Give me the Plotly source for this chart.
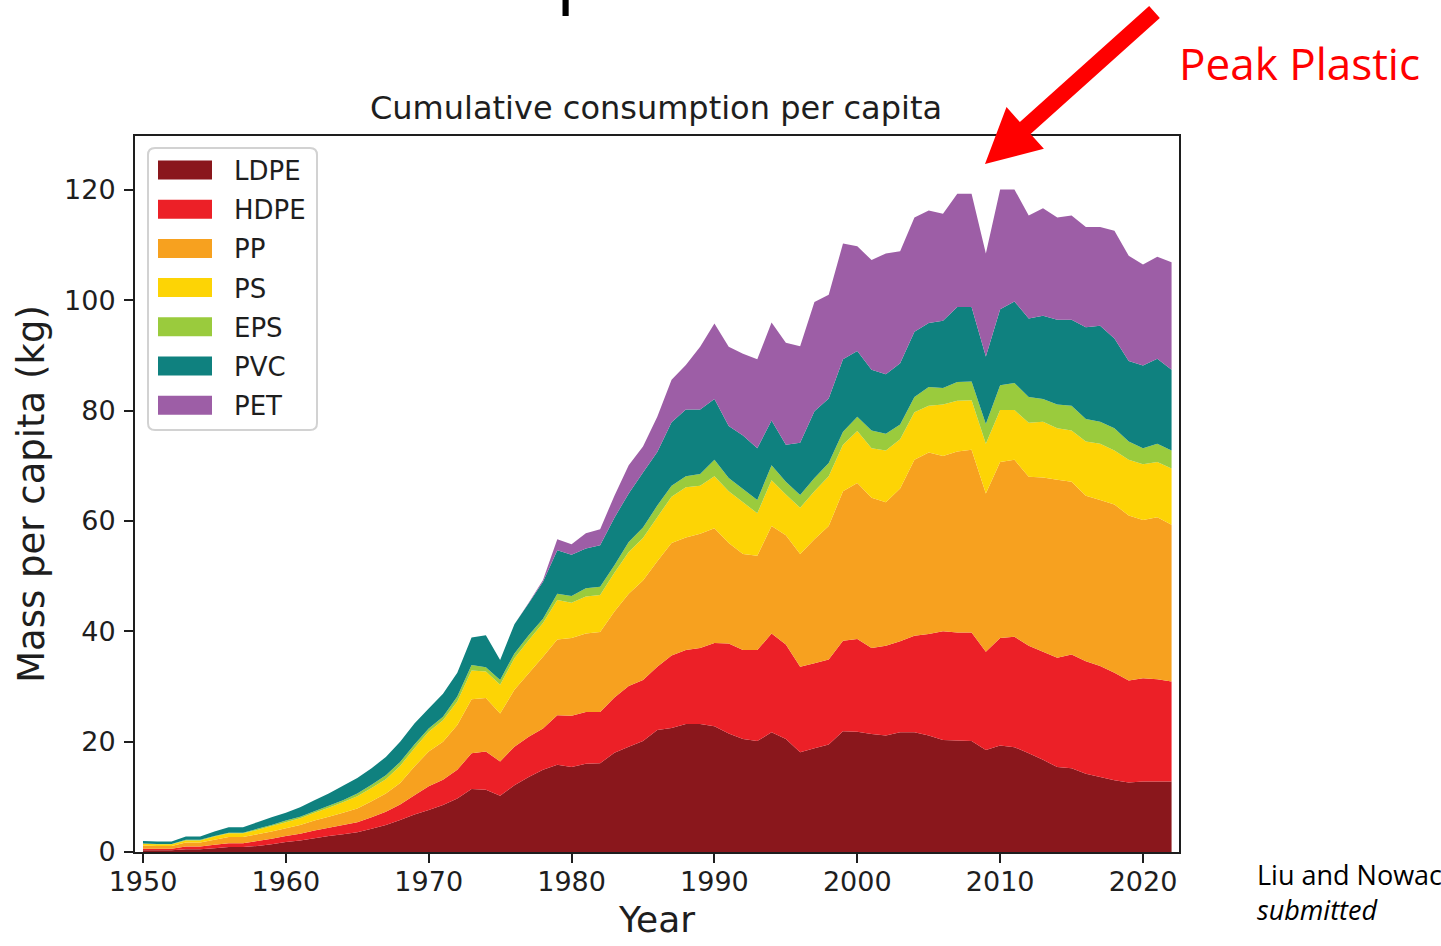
import math
import plotly.graph_objects as go

# ---------------- data (kg per capita) ----------------
years = list(range(1950, 2023))

LDPE = [0.3, 0.3, 0.3, 0.5, 0.5, 0.7, 0.9, 0.9, 1.1, 1.4, 1.8, 2.1, 2.5, 2.9, 3.2, 3.6, 4.2, 4.9, 5.8, 6.8, 7.6,
        8.5, 9.7, 11.4, 11.3, 10.2, 12.1, 13.6, 14.9, 15.8, 15.4, 16.0, 16.1, 18.0, 19.1,
        20.1, 22.1, 22.5, 23.2, 23.2, 22.8, 21.5, 20.5, 20.1, 21.7, 20.5, 18.1, 18.8, 19.5, 21.9,
        21.8, 21.4, 21.1, 21.7, 21.7, 21.1, 20.3, 20.2, 20.1, 18.5, 19.3, 19.0, 17.9, 16.7, 15.4, 15.2, 14.2, 13.6, 13.0, 12.6, 12.8, 12.8, 12.8]

HDPE = [0.3, 0.3, 0.3, 0.5, 0.5, 0.6, 0.7, 0.7, 0.9, 1.0, 1.1, 1.2, 1.4, 1.5, 1.7, 1.8, 2.1, 2.4, 2.8, 3.5, 4.3,
        4.6, 5.2, 6.5, 6.9, 6.2, 7.0, 7.3, 7.5, 9.0, 9.3, 9.4, 9.3, 10.0, 11.0,
        11.1, 11.5, 13.1, 13.4, 13.8, 15.1, 16.3, 16.1, 16.5, 17.9, 17.1, 15.5, 15.4, 15.4, 16.4,
        16.8, 15.6, 16.3, 16.5, 17.5, 18.4, 19.7, 19.6, 19.7, 17.8, 19.5, 20.0, 19.5, 19.6, 19.8, 20.6, 20.4, 20.1, 19.5, 18.5, 18.7, 18.5, 18.1]

PP = [0.6, 0.5, 0.5, 0.7, 0.7, 0.9, 1.1, 1.1, 1.2, 1.3, 1.4, 1.6, 1.8, 2.0, 2.2, 2.5, 2.9, 3.3, 3.9, 5.2, 6.3,
      6.9, 8.1, 9.8, 9.7, 8.7, 10.3, 11.5, 13.0, 13.7, 14.1, 14.2, 14.5, 15.6, 16.7,
      18.0, 19.1, 20.4, 20.4, 20.7, 20.8, 18.2, 17.4, 17.1, 19.5, 19.8, 20.4, 22.5, 24.2, 27.1,
      28.3, 27.2, 26.0, 27.7, 31.9, 32.9, 31.8, 32.8, 33.1, 28.7, 31.9, 32.1, 30.6, 31.6, 32.3, 31.3, 30.0, 30.1, 30.5, 29.9, 28.7, 29.4, 28.4]

PS = [0.3, 0.3, 0.3, 0.4, 0.4, 0.6, 0.7, 0.7, 0.8, 1.0, 1.1, 1.2, 1.4, 1.6, 1.9, 2.2, 2.4, 2.6, 3.1, 3.3, 3.6,
      3.9, 4.3, 5.2, 4.8, 5.2, 5.7, 6.0, 6.1, 7.2, 6.4, 6.7, 6.7, 7.0, 7.6,
      7.7, 8.0, 8.4, 9.1, 8.7, 9.4, 9.4, 9.4, 7.7, 8.3, 7.4, 8.4, 8.7, 9.0, 8.4,
      9.4, 9.0, 9.4, 8.9, 8.6, 8.5, 9.3, 9.2, 9.0, 9.0, 9.4, 9.0, 9.8, 10.1, 9.3, 9.3, 9.8, 10.2, 9.8, 10.1, 10.1, 10.0, 10.2]

EPS = [0.05, 0.05, 0.05, 0.1, 0.1, 0.1, 0.1, 0.1, 0.2, 0.2, 0.3, 0.3, 0.3, 0.4, 0.4, 0.5, 0.6, 0.7, 0.7, 0.7, 0.6,
       0.6, 0.9, 1.0, 0.8, 0.9, 0.9, 0.9, 0.8, 1.1, 1.2, 1.5, 1.5, 1.4, 1.8,
       1.9, 2.1, 2.0, 2.0, 2.1, 3.0, 2.4, 2.4, 2.4, 2.7, 2.3, 2.3, 2.4, 2.4, 2.4,
       2.6, 3.2, 3.0, 2.7, 2.8, 3.4, 3.0, 3.4, 3.4, 3.6, 4.5, 4.9, 4.7, 4.1, 4.3, 4.5, 4.1, 4.0, 4.0, 3.3, 2.9, 3.3, 3.3]

PVC = [0.45, 0.45, 0.45, 0.6, 0.6, 0.8, 1.0, 1.0, 1.2, 1.4, 1.4, 1.7, 2.0, 2.2, 2.6, 2.8, 3.0, 3.3, 3.7, 3.8, 3.6,
       4.2, 4.3, 5.0, 5.8, 3.6, 5.3, 5.8, 6.7, 7.9, 7.5, 7.2, 7.5, 8.6, 8.8,
       10.0, 9.7, 11.5, 12.1, 11.7, 11.0, 9.4, 9.7, 9.4, 8.1, 6.7, 9.5, 12.1, 11.7, 13.1,
       11.9, 11.0, 10.8, 11.1, 11.8, 11.6, 12.2, 13.6, 13.5, 12.2, 13.8, 14.8, 14.2, 15.1, 15.4, 15.6, 16.6, 17.4, 16.3, 14.6, 15.0, 15.4, 14.6]

PET = [0.0] * 27 + [0.1, 0.3,
       2.0, 1.9, 2.8, 2.9, 4.0, 5.1,
       4.7, 6.4, 7.7, 8.1, 11.4, 13.7, 14.4, 14.8, 16.1, 17.8, 18.5, 17.5, 19.8, 18.8, 21.0,
       19.0, 19.9, 21.9, 20.3, 20.7, 20.4, 19.4, 20.5, 20.5, 18.7, 21.7, 20.3, 18.7, 19.5, 18.5, 18.9, 18.2, 17.9, 19.5, 19.1, 18.3, 18.5, 19.5]

series_names = ["LDPE", "HDPE", "PP", "PS", "EPS", "PVC", "PET"]
series_values = [LDPE, HDPE, PP, PS, EPS, PVC, PET]
series_colors = ["#8a171c", "#ec2027", "#f7a11f", "#fdd405", "#9acb3d", "#0f817f", "#9d5ea6"]

x_ticks = [1950, 1960, 1970, 1980, 1990, 2000, 2010, 2020]
y_ticks = [0, 20, 40, 60, 80, 100, 120]

# ---------------- layout geometry (pixels) ----------------
W, H = 1441, 946
PL, PR, PT, PB = 135, 1179, 136, 852

def fx(px):
    return (px - PL) / (PR - PL)

def fy(py):
    return (PB - py) / (PB - PT)

TXT = "#1e1e1e"

fig = go.Figure()
for name, vals, col in zip(series_names, series_values, series_colors):
    fig.add_trace(go.Scatter(
        x=years, y=vals, name=name, mode="none", stackgroup="one",
        fillcolor=col, line=dict(width=0), showlegend=False,
    ))

# ---------------- custom legend (matplotlib style) ----------------
lx0, ly0, lx1, ly1, r = 148, 148, 317, 430, 7
legend_path = (
    f"M {fx(lx0 + r)},{fy(ly0)} L {fx(lx1 - r)},{fy(ly0)} Q {fx(lx1)},{fy(ly0)} {fx(lx1)},{fy(ly0 + r)} "
    f"L {fx(lx1)},{fy(ly1 - r)} Q {fx(lx1)},{fy(ly1)} {fx(lx1 - r)},{fy(ly1)} "
    f"L {fx(lx0 + r)},{fy(ly1)} Q {fx(lx0)},{fy(ly1)} {fx(lx0)},{fy(ly1 - r)} "
    f"L {fx(lx0)},{fy(ly0 + r)} Q {fx(lx0)},{fy(ly0)} {fx(lx0 + r)},{fy(ly0)} Z"
)
fig.add_shape(type="path", path=legend_path, xref="paper", yref="paper",
              line=dict(color="#d2d2d2", width=2), fillcolor="rgba(255,255,255,0.85)", layer="above")

row0, row_step = 170, 39.2
for i, (name, col) in enumerate(zip(series_names, series_colors)):
    cy = row0 + i * row_step
    fig.add_shape(type="rect", xref="paper", yref="paper",
                  x0=fx(158), x1=fx(212), y0=fy(cy + 9.5), y1=fy(cy - 9.5),
                  line=dict(width=0), fillcolor=col, layer="above")
    fig.add_annotation(text=name, xref="paper", yref="paper", x=fx(232), y=fy(cy + 1),
                       xanchor="left", yanchor="middle", showarrow=False,
                       font=dict(family="DejaVu Sans", size=26, color=TXT))

# ---------------- red arrow ----------------
Sx, Sy = 1154.5, 12.0     # tail centre (px)
Tx, Ty = 985.0, 164.0     # tip (px)
dx, dy = Tx - Sx, Ty - Sy
ln = math.hypot(dx, dy)
ux, uy = dx / ln, dy / ln
nx, ny = -uy, ux
w, hw, hl = 8.0, 28.0, 54.0
Mx, My = Tx - hl * ux, Ty - hl * uy
pts = [(Sx + w * nx, Sy + w * ny), (Mx + w * nx, My + w * ny), (Mx + hw * nx, My + hw * ny),
       (Tx, Ty), (Mx - hw * nx, My - hw * ny), (Mx - w * nx, My - w * ny), (Sx - w * nx, Sy - w * ny)]
arrow_path = "M " + " L ".join(f"{fx(a)},{fy(b)}" for a, b in pts) + " Z"
fig.add_shape(type="path", path=arrow_path, xref="paper", yref="paper",
              line=dict(width=0), fillcolor="#ff0000", layer="above")

# ---------------- text annotations ----------------
fig.add_annotation(text="Peak Plastic", xref="paper", yref="paper", x=fx(1177), y=fy(63),
                   xanchor="left", yanchor="middle", showarrow=False,
                   font=dict(family="Open Sans", size=44, color="#ff0000"))
fig.add_annotation(text="Liu and Nowack<br><i>submitted</i>", xref="paper", yref="paper",
                   x=fx(1255), y=fy(892), xanchor="left", yanchor="middle", align="left",
                   showarrow=False, font=dict(family="Open Sans", size=27, color="#000000"))
# cut-off glyph of a heading above the figure
fig.add_annotation(text="p", xref="paper", yref="paper", x=fx(555), y=fy(21),
                   xanchor="left", yanchor="bottom", showarrow=False, borderpad=0,
                   font=dict(family="Open Sans", size=76, color="#000000"))

fig.update_layout(
    width=W, height=H,
    margin=dict(l=PL, r=W - PR, t=PT, b=H - PB, pad=0),
    paper_bgcolor="white", plot_bgcolor="white",
    showlegend=False,
    font=dict(family="DejaVu Sans", color=TXT),
    title=dict(text="Cumulative consumption per capita", xref="paper", x=fx(656), xanchor="center",
               yref="container", y=1 - 108 / H, yanchor="middle",
               font=dict(family="DejaVu Sans", size=32, color=TXT)),
    xaxis=dict(range=[1949.44, 2022.52], tickmode="array", tickvals=x_ticks,
               ticks="outside", ticklen=9, tickwidth=2, tickcolor=TXT,
               showline=True, linewidth=2, linecolor=TXT, mirror=True,
               showgrid=False, zeroline=False, ticklabelstandoff=-4,
               tickfont=dict(family="DejaVu Sans", size=27, color=TXT),
               title=dict(text="Year", standoff=10, font=dict(family="DejaVu Sans", size=36, color=TXT))),
    yaxis=dict(range=[0, 129.79], tickmode="array", tickvals=y_ticks,
               ticks="outside", ticklen=9, tickwidth=2, tickcolor=TXT,
               showline=True, linewidth=2, linecolor=TXT, mirror=True,
               showgrid=False, zeroline=False, ticklabelstandoff=3,
               tickfont=dict(family="DejaVu Sans", size=27, color=TXT),
               title=dict(text="Mass per capita (kg)", standoff=8,
                          font=dict(family="DejaVu Sans", size=37, color=TXT))),
)

fig.write_html("out.html", config={"displayModeBar": False, "staticPlot": True},
               post_script="document.body.style.margin='0px'; document.body.style.overflow='hidden';")
